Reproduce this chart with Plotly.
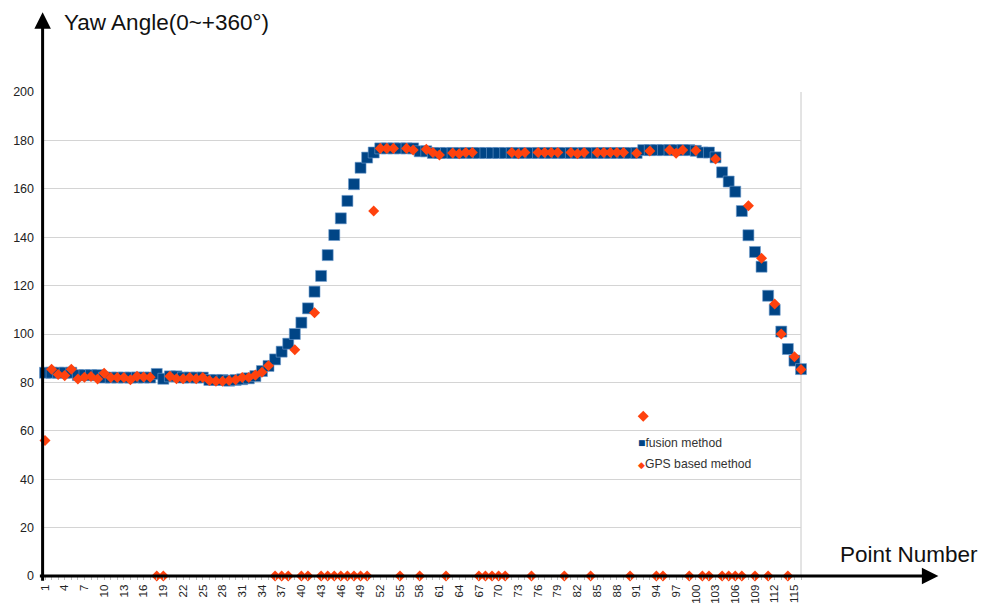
import plotly.graph_objects as go

# Point indices along the track
points = list(range(1, 117))

# Yaw angle estimated by the fusion method (degrees)
fusion_yaw = [
    84, 84, 84, 84, 84, 83, 83, 83, 83, 82,
    82, 82, 82, 82, 82, 82, 82, 83.5, 81.5, 82.5,
    82.5, 82, 82, 82, 82, 81, 81, 81, 80.7, 81,
    81.3, 81.7, 82.6, 84.7, 86.8, 89.5, 92.7, 96, 100, 104.7,
    110.6, 117.5, 124, 132.6, 140.9, 147.8, 155, 161.9, 168.7, 172.9,
    175, 176.7, 176.7, 176.7, 176.7, 176.7, 176.7, 175.5, 175.5, 174.8,
    174.8, 174.8, 174.8, 174.8, 174.8, 174.8, 174.8, 174.8, 174.8, 174.8,
    174.8, 174.8, 174.8, 174.8, 174.8, 174.8, 174.8, 174.8, 174.8, 174.8,
    174.8, 174.8, 174.8, 174.8, 174.8, 174.8, 174.8, 174.8, 174.8, 174.8,
    174.8, 176, 176, 176, 176, 176, 176, 176, 176, 175.7,
    175, 175, 173, 166.8, 163, 158.8, 150.8, 140.8, 133.9, 127.8,
    115.8, 110, 101, 93.8, 89, 85.5,
]

# Yaw angle from GPS heading alone (0 where no fix was available)
gps_yaw = [
    56, 85.4, 83.3, 82.8, 85.4, 81.4, 82.1, 82.4, 81.4, 83.8,
    82, 82, 82, 81.1, 82.5, 82.2, 82.1, 0, 0, 82.5,
    81.5, 81.5, 82, 81.5, 82, 80.8, 80.5, 80.5, 80.8, 81.1,
    82, 82, 83, 84.2, 86.9, 0, 0, 0, 93.5, 0,
    0, 108.8, 0, 0, 0, 0, 0, 0, 0, 0,
    150.8, 176.7, 176.7, 176.7, 0, 176.7, 176, 0, 176.3, 175,
    174, 0, 174.8, 174.5, 175, 175, 0, 0, 0, 0,
    0, 175, 174.5, 175, 0, 175, 175, 175, 175, 0,
    175, 174.5, 175, 0, 175, 175, 175, 175, 175, 0,
    174.7, 66, 175.6, 0, 0, 176, 174.7, 176, 0, 175.8,
    0, 0, 172.3, 0, 0, 0, 0, 153, 0, 131.3,
    0, 112.4, 100, 0, 90.6, 85.3,
]

y_ticks = [20, 40, 60, 80, 100, 120, 140, 160, 180, 200]

series_names = ["fusion method", "GPS based method"]

BLUE = "#004586"
ORANGE = "#ff420e"
FONT = "Liberation Sans, Arial, sans-serif"

fig = go.Figure()

fig.add_trace(go.Scatter(
    x=points, y=fusion_yaw, mode="markers", name=series_names[0],
    marker=dict(symbol="square", size=11, color=BLUE,
                line=dict(width=0.6, color="#6f9ccc")),
    cliponaxis=False, showlegend=False,
))
fig.add_trace(go.Scatter(
    x=points, y=gps_yaw, mode="markers", name=series_names[1],
    marker=dict(symbol="diamond", size=8.5, color=ORANGE, line=dict(width=0)),
    cliponaxis=False, showlegend=False,
))

fig.update_layout(
    width=990, height=606,
    margin=dict(l=42, r=189, t=92, b=30, autoexpand=False),
    paper_bgcolor="white", plot_bgcolor="white",
    font=dict(family=FONT, size=12, color="#222"),
    showlegend=False,
    xaxis=dict(
        range=[0.544, 116.0], showgrid=False, zeroline=False,
        showline=False, tickmode="linear", tick0=1, dtick=3,
        ticks="outside", ticklen=3, tickcolor="#bbbbbb",
        tickangle=-90, tickfont=dict(size=11.5, color="#222"),
        minor=dict(tick0=1, dtick=1, ticks="outside", ticklen=3,
                   tickcolor="#bbbbbb", showgrid=False),
    ),
    yaxis=dict(
        range=[0, 200], tickmode="array", tickvals=[0] + y_ticks,
        showgrid=True, gridcolor="#d4d4d4", gridwidth=1,
        zeroline=False, showline=False, ticks="",
        tickfont=dict(size=12.5, color="#222"), ticklabelstandoff=7,
    ),
)

# Right border of the plotting area
fig.add_shape(type="line", xref="paper", yref="paper", x0=1, x1=1, y0=0, y1=1,
              line=dict(color="#c8c8c8", width=1), layer="below")

# Axis arrows
fig.add_annotation(xref="paper", yref="paper", x=0.0008, y=1.165,
                   ax=0, ay=570, axref="pixel", ayref="pixel",
                   showarrow=True, arrowhead=2, arrowsize=1.1, arrowwidth=3,
                   arrowcolor="black", text="", standoff=0, startstandoff=0)
fig.add_annotation(xref="paper", yref="paper", x=1.181, y=0,
                   ax=-900, ay=0, axref="pixel", ayref="pixel",
                   showarrow=True, arrowhead=2, arrowsize=1.1, arrowwidth=3,
                   arrowcolor="black", text="", standoff=0, startstandoff=0)

# Axis titles
fig.add_annotation(xref="paper", yref="paper", x=0.026, y=1.1446,
                   xanchor="left", yanchor="middle", showarrow=False,
                   text="Yaw Angle(0~+360°)", font=dict(size=22.5, color="#111"))
fig.add_annotation(xref="paper", yref="paper", x=1.049, y=0.0434,
                   xanchor="left", yanchor="middle", showarrow=False,
                   text="Point Number", font=dict(size=22.5, color="#111"))

# Legend drawn as compact marker + label rows
legend_rows = [
    (f'<span style="color:{BLUE}">■</span>{series_names[0]}', 0.2752),
    (f'<span style="color:{ORANGE};font-size:9px">◆</span>{series_names[1]}', 0.2318),
]
for label, ypos in legend_rows:
    fig.add_annotation(xref="paper", yref="paper", x=0.7825, y=ypos,
                       xanchor="left", yanchor="middle", showarrow=False,
                       text=label, font=dict(size=12.2, color="#333"))

fig.write_html("out.html")
